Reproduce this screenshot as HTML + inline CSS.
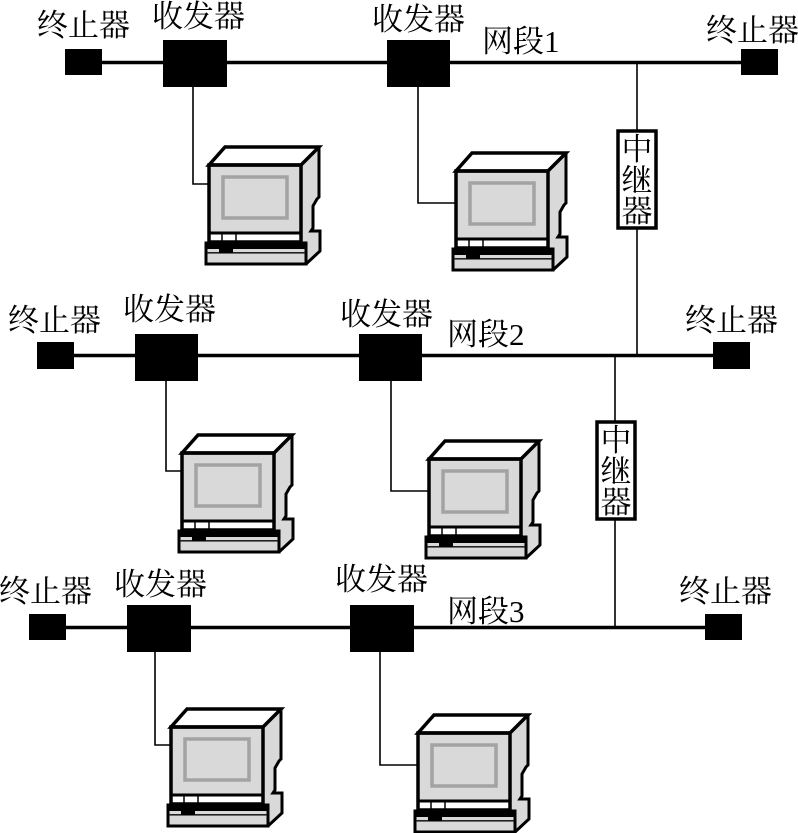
<!DOCTYPE html>
<html>
<head>
<meta charset="utf-8">
<style>
html,body{margin:0;padding:0;background:#fff;width:798px;height:833px;overflow:hidden}
svg{display:block}
text{font-family:"Liberation Serif","Noto Serif CJK SC","Noto Sans CJK SC",serif;font-size:31px;fill:#000}
</style>
</head>
<body>
<svg width="798" height="833" viewBox="0 0 798 833" xmlns="http://www.w3.org/2000/svg">
<defs>
<g id="pc">
  <path d="M0 0L16-18H110V32L108 34L104 41V65H111V85L97 99H0Z" fill="#d9d9d9"/>
  <path d="M0 0L16-18H110L92 0Z" fill="#fff"/>
  <rect x="1" y="69" width="91" height="8" fill="#fff"/>
  <path d="M0 0L16-18H110L92 0Z" fill="none" stroke="#000" stroke-width="3.5" stroke-linejoin="miter"/>
  <path d="M110-18V32L108 34L104 41V63L102 66H111V86L97 99" fill="none" stroke="#000" stroke-width="3"/>
  <rect x="0" y="0" width="92" height="77" fill="none" stroke="#000" stroke-width="3.5"/>
  <line x1="0" y1="68" x2="92" y2="68" stroke="#000" stroke-width="3"/>
  <rect x="14" y="12" width="64" height="41" fill="#d9d9d9" stroke="#a3a3a3" stroke-width="3.5"/>
  <path d="M13 69V77M27 69V77" stroke="#000" stroke-width="1.5"/>
  <rect x="-3" y="78" width="100" height="21" fill="#d9d9d9" stroke="#000" stroke-width="3"/>
  <rect x="-3" y="78" width="100" height="6" fill="#000"/>
  <rect x="-2" y="87" width="98" height="1.6" fill="#222"/>
  <rect x="10" y="84" width="14" height="4" fill="#000"/>
</g>
</defs>

<!-- Bus lines -->
<g stroke="#000" stroke-width="3.5">
  <line x1="102" y1="62.5" x2="742" y2="62.5"/>
  <line x1="74" y1="355.5" x2="714" y2="355.5"/>
  <line x1="66" y1="627.5" x2="706" y2="627.5"/>
</g>

<!-- Repeater links -->
<g stroke="#000" stroke-width="1.6">
  <line x1="637" y1="62" x2="637" y2="355"/>
  <line x1="615" y1="355" x2="615" y2="627"/>
</g>

<!-- Drop cables -->
<g fill="none" stroke="#000" stroke-width="1.6">
  <path d="M193 87V184H208"/>
  <path d="M418 87V203H455"/>
  <path d="M166 381V471H181"/>
  <path d="M391 381V491H428"/>
  <path d="M155 652V745H170"/>
  <path d="M380 652V765H417"/>
</g>

<!-- Terminators and transceivers -->
<g fill="#000">
  <rect x="65" y="49" width="37" height="26"/>
  <rect x="741" y="49" width="37" height="26"/>
  <rect x="163" y="40" width="64" height="47"/>
  <rect x="387" y="40" width="63" height="47"/>
  <rect x="37" y="342" width="37" height="27"/>
  <rect x="713" y="342" width="37" height="27"/>
  <rect x="135" y="334" width="63" height="47"/>
  <rect x="359" y="334" width="63" height="47"/>
  <rect x="29" y="614" width="37" height="26"/>
  <rect x="705" y="614" width="37" height="26"/>
  <rect x="127" y="605" width="64" height="47"/>
  <rect x="350" y="605" width="64" height="47"/>
</g>

<!-- Computers -->
<use href="#pc" x="209" y="165"/>
<use href="#pc" x="456" y="171"/>
<use href="#pc" x="182" y="453"/>
<use href="#pc" x="429" y="459"/>
<use href="#pc" x="171" y="727"/>
<use href="#pc" x="418" y="733"/>

<!-- Repeater boxes -->
<rect x="618" y="131" width="38" height="97" fill="#fff" stroke="#000" stroke-width="3.5"/>
<rect x="597" y="422" width="38" height="97" fill="#fff" stroke="#000" stroke-width="3.5"/>
<g text-anchor="middle">
  <text x="637" y="160">中</text>
  <text x="637" y="191">继</text>
  <text x="637" y="222">器</text>
  <text x="616" y="451">中</text>
  <text x="616" y="482">继</text>
  <text x="616" y="513">器</text>
</g>

<!-- Labels -->
<text x="37" y="36">终止器</text>
<text x="152" y="27">收发器</text>
<text x="372" y="30">收发器</text>
<text x="482" y="52">网段1</text>
<text x="706" y="41">终止器</text>

<text x="8" y="331">终止器</text>
<text x="123" y="320">收发器</text>
<text x="340" y="325">收发器</text>
<text x="447" y="345">网段2</text>
<text x="685" y="331">终止器</text>

<text x="-1" y="602">终止器</text>
<text x="114" y="595">收发器</text>
<text x="335" y="590">收发器</text>
<text x="447" y="622">网段3</text>
<text x="679" y="602">终止器</text>
</svg>
</body>
</html>
